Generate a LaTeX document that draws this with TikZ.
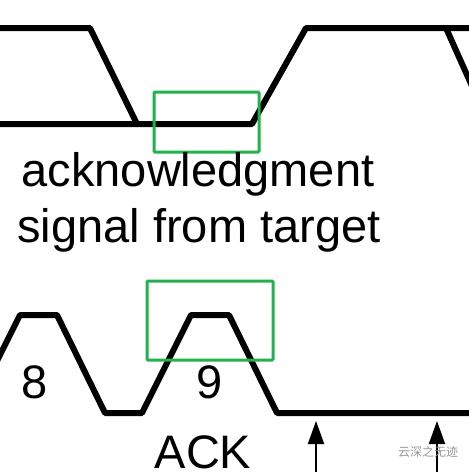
\documentclass[tikz,border=0pt]{standalone}
\usepackage{fontspec}
\setmainfont{Liberation Sans}
\newfontfamily\cjkfont{Noto Sans CJK SC}
\usetikzlibrary{arrows.meta}
\definecolor{boxgreen}{RGB}{34,177,76}
\definecolor{wmgray}{RGB}{150,150,150}

\begin{document}
\begin{tikzpicture}[x=1pt,y=-1pt,
  wave/.style={line width=6pt,line join=round},
  hibox/.style={draw=boxgreen,line width=3pt,rounded corners=1pt},
  big/.style={font=\fontsize{47}{56}\selectfont,inner sep=0pt,anchor=base},
  arr/.style={line width=2pt,-{Triangle[length=23pt,width=16pt]}}
]
\useasboundingbox (0,0) rectangle (469,472);
\clip (0,0) rectangle (469,472);
% SDA (top): ACK pulled low by target
\draw[wave] (-10,124) -- (252,124) -- (306,28) -- (480,28);
\draw[wave] (-10,28) -- (90,28) -- (137,124);
\draw[wave] (446,28) -- (480,104);
% SCL (bottom): clocks 8 and 9
\draw[wave] (-10,375) -- (20,315) -- (57,315) -- (105,413) -- (142,413)
  -- (191,315) -- (229,315) -- (277,413) -- (480,413);
% highlight boxes
\draw[hibox] (154,92) rectangle (259,152);
\draw[hibox] (147,281) rectangle (273,360);
% labels
\node[big] (ack1) at (198,186) {acknowledgment};
\node[big] (ack2) at (199,242) {signal from target};
\node[big] (clk8) at (35,398) {8};
\node[big] (clk9) at (210,398) {9};
\node[big] (ackl) at (203,468) {ACK};
% markers below the clock line
\coordinate (m1b) at (316,480);
\coordinate (m1t) at (316,421);
\coordinate (m2b) at (437,480);
\coordinate (m2t) at (437,421);
\draw[arr] (m1b) -- (m1t);
\draw[arr] (m2b) -- (m2t);
% watermark
\node[font=\cjkfont\fontsize{12}{12}\selectfont,text=wmgray,inner sep=0pt] (wm) at (428,452) {云深之无迹};
\end{tikzpicture}
\end{document}
